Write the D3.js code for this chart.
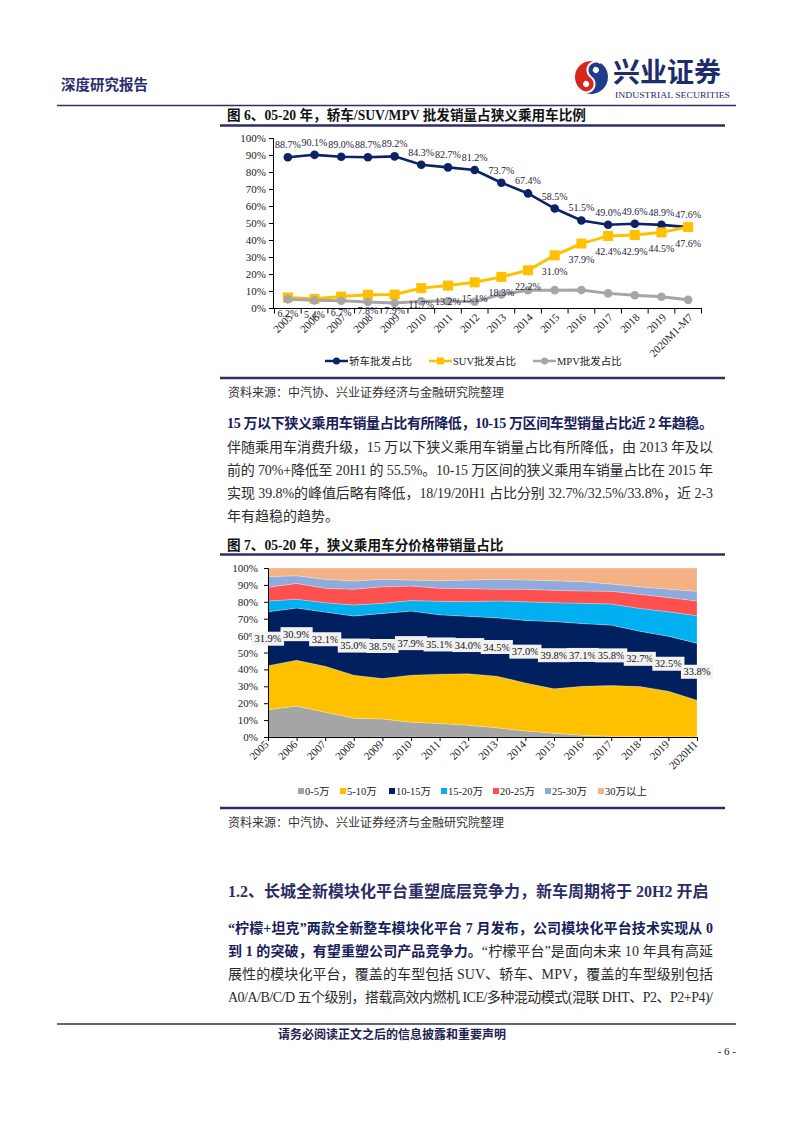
<!DOCTYPE html>
<html><head><meta charset="utf-8">
<script src="https://cdn.jsdelivr.net/npm/d3@7"></script>
<style>body{margin:0;background:#fff} svg{display:block}</style>
</head><body>
<svg id="page" width="793" height="1122"></svg>
<script>
// ---------- DATA ----------
const years1 = ["2005","2006","2007","2008","2009","2010","2011","2012","2013","2014","2015","2016","2017","2018","2019","2020M1-M7"];
const sedan = [88.7,90.1,89.0,88.7,89.2,84.3,82.7,81.2,73.7,67.4,58.5,51.5,49.0,49.6,48.9,47.6];
const suv   = [6.2,5.4,6.7,7.8,7.9,11.7,13.2,15.1,18.3,22.2,31.0,37.9,42.4,42.9,44.5,47.6];
const mpv   = [5.1,4.5,4.3,3.5,2.9,4.0,4.1,3.7,8.0,10.4,10.5,10.6,8.6,7.5,6.6,4.8];
const seriesNames1 = ["轿车批发占比","SUV批发占比","MPV批发占比"];
const pctTicks = [0,10,20,30,40,50,60,70,80,90,100];

const years2 = ["2005","2006","2007","2008","2009","2010","2011","2012","2013","2014","2015","2016","2017","2018","2019","2020H1"];
const band0_5   = [16.1,18.3,14.7,11.1,10.7,8.8,8.0,7.0,5.4,3.6,2.2,1.0,0.4,0.2,0.1,0.1];
const band5_10  = [26.1,27.1,27.1,25.5,23.9,27.8,29.2,30.4,30.6,28.4,26.3,29.0,30.0,29.7,27.0,21.6];
const band10_15 = [31.9,30.9,32.1,35.0,38.5,37.9,35.1,34.0,34.5,37.0,39.8,37.1,35.8,32.7,32.5,33.8];
const band15_20 = [6.4,5.2,5.6,6.5,6.0,6.2,8.0,8.7,10.0,11.0,11.2,12.0,12.5,13.5,14.5,16.3];
const band20_25 = [8.1,9.4,8.5,9.3,9.8,8.6,7.7,7.7,6.9,7.4,7.3,7.3,7.5,8.3,8.4,8.7];
const band25_30 = [6.3,4.5,5.3,4.9,4.4,3.6,4.5,5.1,5.9,5.5,5.7,5.5,4.3,4.5,5.0,5.7];
const band30p   = [5.1,4.6,6.7,7.7,6.7,7.1,7.5,7.1,6.7,7.1,7.5,8.1,9.5,11.1,12.5,13.8];
const bandNames = ["0-5万","5-10万","10-15万","15-20万","20-25万","25-30万","30万以上"];

// ---------- STYLE ----------
const SERIF = "'Liberation Serif','Noto Sans CJK SC',serif";
const NAVY = "#2d2e66";
const TXT = "#2b2b2b";
const BOLDTXT = "#17205a";
const c1 = ["#0b2265","#FFC000","#A6A6A6"];
const c2 = ["#A5A5A5","#FFC000","#002060","#00B0F0","#FF5050","#8FAADC","#F4B183"];

const svg = d3.select("#page");

function hline(y,x1,x2,w,col){
  svg.append("line").attr("x1",x1).attr("x2",x2).attr("y1",y).attr("y2",y)
    .attr("stroke",col||NAVY).attr("stroke-width",w);
}
function txt(x,y,s,size,opt){
  opt=opt||{};
  return svg.append("text").attr("x",x).attr("y",y).attr("font-family",SERIF)
    .attr("font-size",size).attr("font-weight",opt.bold?"bold":"normal")
    .attr("fill",opt.fill||TXT).attr("text-anchor",opt.anchor||"start").text(s);
}
function justify(sel,width){
  const node=sel.node();
  const n=node.getNumberOfChars();
  const w=node.getComputedTextLength();
  sel.attr("letter-spacing",(width-w)/(n-1));
}

// ---------- HEADER ----------
txt(61,90,"深度研究报告",14.5,{bold:true,fill:"#2b2d6e"});
(function logo(){
  const cx=591,cy=77,R=17;
  const g=svg.append("g").attr("transform",`translate(${cx},${cy}) rotate(35)`);
  g.append("circle").attr("r",R).attr("fill","#1f3c8c");
  g.append("path").attr("d",`M0,${-R} A${R},${R} 0 0 0 0,${R} A${R/2},${R/2} 0 0 0 0,0 A${R/2},${R/2} 0 0 1 0,${-R} Z`)
    .attr("fill","#d9261c").attr("stroke","#fff").attr("stroke-width",2);
  g.append("circle").attr("cy",-R/2).attr("r",3).attr("fill","#fff");
  g.append("circle").attr("cy",R/2).attr("r",3).attr("fill","#fff");
})();
svg.append("text").attr("x",613).attr("y",82).attr("font-family","'Noto Sans CJK SC'")
  .attr("font-size",27).attr("font-weight","bold").attr("fill","#1d2c6b").text("兴业证券");
svg.append("text").attr("x",615).attr("y",97.5).attr("font-family",SERIF).attr("font-size",8.5)
  .attr("fill","#1d2c6b").attr("textLength",115).attr("lengthAdjust","spacingAndGlyphs").text("INDUSTRIAL SECURITIES");
hline(105.5,57,736,1.5);

// ---------- CHART 1 ----------
txt(227,120,"图 6、05-20 年，轿车/SUV/MPV 批发销量占狭义乘用车比例",13.6,{bold:true,fill:"#111"});
hline(125.5,220,725,2.5);

const x1 = d3.scaleBand().domain(years1).range([274.5,701.5]);
const y1 = d3.scaleLinear().domain([0,100]).range([308,138]);
const bw = x1.bandwidth();
const cxp = d => x1(d)+bw/2;

const g1 = svg.append("g");
const ax1 = g1.append("g").attr("transform","translate(273,0)")
  .call(d3.axisLeft(y1).tickValues(pctTicks).tickFormat(d=>d+"%").tickSize(4).tickPadding(3));
ax1.select(".domain").attr("stroke","#000");
ax1.selectAll("line").attr("stroke","#000");
ax1.selectAll("text").attr("font-family",SERIF).attr("font-size",11).attr("fill","#1a1a1a");

g1.append("line").attr("x1",273).attr("x2",702).attr("y1",308.5).attr("y2",308.5).attr("stroke","#000");
g1.selectAll(".xt").data(d3.range(years1.length+1)).enter().append("line")
  .attr("x1",i=>x1.range()[0]+i*x1.step()).attr("x2",i=>x1.range()[0]+i*x1.step())
  .attr("y1",308.5).attr("y2",313.5).attr("stroke","#000");
g1.selectAll(".xl").data(years1).enter().append("text")
  .attr("transform",d=>`translate(${cxp(d)+5.5},318) rotate(-45)`)
  .attr("text-anchor","end").attr("font-family",SERIF).attr("font-size",11).attr("fill","#1a1a1a").text(d=>d);

const series1=[sedan,suv,mpv];
series1.forEach((vals,si)=>{
  const line=d3.line().x((d,i)=>cxp(years1[i])).y(d=>y1(d));
  g1.append("path").datum(vals).attr("d",line).attr("fill","none")
    .attr("stroke",c1[si]).attr("stroke-width",si===0?2.6:3);
  if(si===1){
    g1.selectAll(".m1").data(vals).enter().append("rect")
      .attr("x",(d,i)=>cxp(years1[i])-5).attr("y",d=>y1(d)-5).attr("width",10).attr("height",10).attr("fill",c1[1]);
  } else {
    g1.selectAll(".m"+si).data(vals).enter().append("circle")
      .attr("cx",(d,i)=>cxp(years1[i])).attr("cy",d=>y1(d)).attr("r",4.3).attr("fill",c1[si]);
  }
});
g1.selectAll(".ls").data(sedan).enter().append("text")
  .attr("x",(d,i)=>cxp(years1[i])).attr("y",d=>y1(d)-9)
  .attr("text-anchor","middle").attr("font-family",SERIF).attr("font-size",10).attr("fill","#1b2340")
  .text(d=>d.toFixed(1)+"%");
g1.selectAll(".lu").data(suv).enter().append("text")
  .attr("x",(d,i)=>cxp(years1[i])).attr("y",d=>y1(d)+19.5)
  .attr("text-anchor","middle").attr("font-family",SERIF).attr("font-size",10).attr("fill","#1b2340")
  .text(d=>d.toFixed(1)+"%");

// legend 1
const leg1x=[325,429,533];
seriesNames1.forEach((nm,i)=>{
  const lx=leg1x[i], ly=361;
  g1.append("line").attr("x1",lx).attr("x2",lx+23).attr("y1",ly).attr("y2",ly).attr("stroke",c1[i]).attr("stroke-width",2.5);
  if(i===1) g1.append("rect").attr("x",lx+8).attr("y",ly-3.5).attr("width",7).attr("height",7).attr("fill",c1[i]);
  else g1.append("circle").attr("cx",lx+11.5).attr("cy",ly).attr("r",3.5).attr("fill",c1[i]);
  g1.append("text").attr("x",lx+24).attr("y",ly+4).attr("font-family",SERIF).attr("font-size",10.5).attr("fill","#222").text(nm);
});
hline(378,220,725,2.5);
txt(228,397,"资料来源：中汽协、兴业证券经济与金融研究院整理",12,{fill:"#333"});

// ---------- PARAGRAPH 1 ----------
const L=227,R=713;
justify(txt(L,428,"15 万以下狭义乘用车销量占比有所降低，10-15 万区间车型销量占比近 2 年趋稳。",14,{bold:true,fill:BOLDTXT}),R-L);
justify(txt(L,452,"伴随乘用车消费升级，15 万以下狭义乘用车销量占比有所降低，由 2013 年及以",14),R-L);
justify(txt(L,475,"前的 70%+降低至 20H1 的 55.5%。10-15 万区间的狭义乘用车销量占比在 2015 年",14),R-L);
justify(txt(L,498,"实现 39.8%的峰值后略有降低，18/19/20H1 占比分别 32.7%/32.5%/33.8%，近 2-3",14),R-L);
txt(L,521,"年有趋稳的趋势。",14);

// ---------- CHART 2 ----------
txt(227,550,"图 7、05-20 年，狭义乘用车分价格带销量占比",13.6,{bold:true,fill:"#111"});
hline(554.5,220,725,2.5);

const x2 = d3.scalePoint().domain(years2).range([268,697]);
const y2 = d3.scaleLinear().domain([0,100]).range([737,568]);
const bandArrays=[band0_5,band5_10,band10_15,band15_20,band20_25,band25_30,band30p];
const rows = years2.map((yr,i)=>{const o={year:yr}; bandNames.forEach((k,j)=>o[k]=bandArrays[j][i]); return o;});
const stacked = d3.stack().keys(bandNames)(rows);
const g2 = svg.append("g");
const area = d3.area().x(d=>x2(d.data.year)).y0(d=>y2(d[0])).y1(d=>y2(d[1]));
g2.selectAll(".ar").data(stacked).enter().append("path")
  .attr("d",area).attr("fill",(d,i)=>c2[i]).attr("stroke","#fff").attr("stroke-width",0.4).attr("stroke-opacity",0.6);

const ax2 = g2.append("g").attr("transform","translate(268,0)")
  .call(d3.axisLeft(y2).tickValues(pctTicks).tickFormat(d=>d+"%").tickSize(4).tickPadding(6));
ax2.select(".domain").attr("stroke","#000");
ax2.selectAll("line").attr("stroke","#000");
ax2.selectAll("text").attr("font-family",SERIF).attr("font-size",11).attr("fill","#1a1a1a");
const ax2b = g2.append("g").attr("transform","translate(0,737)")
  .call(d3.axisBottom(x2).tickSize(4).tickFormat(""));
ax2b.select(".domain").attr("stroke","#000");
ax2b.selectAll("line").attr("stroke","#000");
g2.selectAll(".xl2").data(years2).enter().append("text")
  .attr("transform",d=>`translate(${x2(d)+1.5},745) rotate(-45)`)
  .attr("text-anchor","end").attr("font-family",SERIF).attr("font-size",11).attr("fill","#1a1a1a").text(d=>d);

// labels for 10-15万
const mid = stacked[2];
mid.forEach((d,i)=>{
  const cx=x2(d.data.year), cy=y2((d[0]+d[1])/2);
  const t=g2.append("text").attr("x",cx).attr("y",cy+3.6).attr("text-anchor","middle")
    .attr("font-family",SERIF).attr("font-size",10.5).attr("fill","#111").text(band10_15[i].toFixed(1)+"%");
  const w=t.node().getComputedTextLength();
  g2.insert("rect",()=>t.node()).attr("x",cx-w/2-2.5).attr("y",cy-7).attr("width",w+5).attr("height",14).attr("fill","#f2f2f2");
});

// legend 2
const leg2x=[298,340,389,441,493,545,598];
bandNames.forEach((nm,i)=>{
  g2.append("rect").attr("x",leg2x[i]).attr("y",788).attr("width",6).attr("height",6).attr("fill",c2[i]);
  g2.append("text").attr("x",leg2x[i]+7).attr("y",795).attr("font-family",SERIF).attr("font-size",10.5).attr("fill","#222").text(nm);
});
hline(808,220,725,2.5);
txt(228,827,"资料来源：中汽协、兴业证券经济与金融研究院整理",12,{fill:"#333"});

// ---------- SECTION ----------
txt(228,897,"1.2、长城全新模块化平台重塑底层竞争力，新车周期将于 20H2 开启",16,{bold:true,fill:"#2b2d66"});
justify(txt(228,933,"“柠檬+坦克”两款全新整车模块化平台 7 月发布，公司模块化平台技术实现从 0",14,{bold:true,fill:BOLDTXT}),R-228);
(function(){
  const t=svg.append("text").attr("x",228).attr("y",956).attr("font-family",SERIF).attr("font-size",14).attr("fill",TXT);
  t.append("tspan").attr("font-weight","bold").attr("fill",BOLDTXT).text("到 1 的突破，有望重塑公司产品竞争力。");
  t.append("tspan").text("“柠檬平台”是面向未来 10 年具有高延");
  justify(t,R-228);
})();
justify(txt(228,979,"展性的模块化平台，覆盖的车型包括 SUV、轿车、MPV，覆盖的车型级别包括",14),R-228);
justify(txt(228,1002,"A0/A/B/C/D 五个级别，搭载高效内燃机 ICE/多种混动模式(混联 DHT、P2、P2+P4)/",14),R-228);

// ---------- FOOTER ----------
hline(1024,57,736,1.5);
txt(278,1039,"请务必阅读正文之后的信息披露和重要声明",12,{bold:true,fill:"#1f2150"});
txt(736,1055,"- 6 -",11,{anchor:"end",fill:"#222"});
</script>
</body></html>
